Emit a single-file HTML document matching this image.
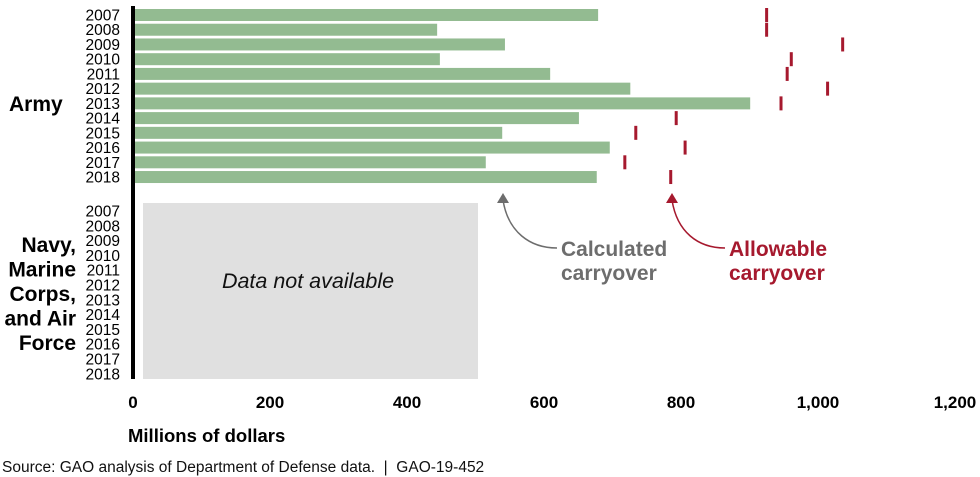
<!DOCTYPE html>
<html><head><meta charset="utf-8"><style>
html,body{margin:0;padding:0;background:#fff;}
svg{display:block;font-family:"Liberation Sans",sans-serif;}
</style></head><body>
<svg width="980" height="477" viewBox="0 0 980 477">
<g id="army-labels"></g>
<g id="bars"></g>
<g id="ticks"></g>
<g id="other-labels"></g>
<g id="xaxis"></g>
<rect x="131" y="6" width="4" height="373" fill="#000"/>
<text x="9" y="111" font-size="21" font-weight="bold">Army</text>
<g font-size="21" font-weight="bold" text-anchor="end">
<text x="76" y="252">Navy,</text><text x="76" y="276.5">Marine</text><text x="76" y="301">Corps,</text><text x="76" y="325.5">and Air</text><text x="76" y="350">Force</text>
</g>
<rect x="143" y="203" width="335" height="176" fill="#e0e0e0"/>
<text x="308" y="288" font-size="21.5" font-style="italic" text-anchor="middle" fill="#111">Data not available</text>
<g>
<path d="M557,248 C530,248 508,232 503,200" fill="none" stroke="#6d6d6d" stroke-width="1.5"/>
<polygon points="503,193 497,203 509,203" fill="#6d6d6d"/>
<text x="561" y="256" font-size="21" font-weight="bold" fill="#6d6d6d">Calculated</text>
<text x="561" y="280" font-size="21" font-weight="bold" fill="#6d6d6d">carryover</text>
</g>
<g>
<path d="M725,248 C698,248 677,232 672,200" fill="none" stroke="#a6192e" stroke-width="1.5"/>
<polygon points="672,193 666,203 678,203" fill="#a6192e"/>
<text x="729" y="256" font-size="21" font-weight="bold" fill="#a6192e">Allowable</text>
<text x="729" y="280" font-size="21" font-weight="bold" fill="#a6192e">carryover</text>
</g>
<text x="128" y="442" font-size="18.5" font-weight="bold">Millions of dollars</text>
<text x="2" y="472" font-size="15.5" fill="#111" xml:space="preserve">Source: GAO analysis of Department of Defense data.  |  GAO-19-452</text>
</svg>
<script>
const years = ["2007","2008","2009","2010","2011","2012","2013","2014","2015","2016","2017","2018"];
const calculated = [679,444,543,448,609,726,901,651,539,696,515,677];
const allowable = [925,925,1036,961,955,1014,946,793,734,806,718,785];
const xTicks = [0,200,400,600,800,1000,1200];
const xTickLabels = ["0","200","400","600","800","1,000","1,200"];

const NS = "http://www.w3.org/2000/svg";
const x0 = 133, pxPer = 0.685;
const xs = v => x0 + v * pxPer;
const rowY = i => 9 + i * 14.73;
const rowY2 = i => 205 + i * 14.8;
function mk(tag, attrs, parent, txt){
  const e = document.createElementNS(NS, tag);
  for (const k in attrs) e.setAttribute(k, attrs[k]);
  if (txt !== undefined) e.textContent = txt;
  parent.appendChild(e); return e;
}
const gb = document.getElementById('bars');
const gt = document.getElementById('ticks');
const gal = document.getElementById('army-labels');
const gol = document.getElementById('other-labels');
const gx = document.getElementById('xaxis');
years.forEach((y, i) => {
  const r = mk('rect', {x: 135, y: rowY(i), width: Math.max(0, xs(calculated[i]) - 135), height: 12, fill: '#93bb91'}, gb);
  
  
  const t = mk('rect', {x: xs(allowable[i]) - 1.5, y: rowY(i) - 1, width: 3, height: 14, fill: '#a6192e'}, gt);
  
  
  const l = mk('text', {x: 120, y: rowY(i) + 11.5, 'font-size': 15.5, 'text-anchor': 'end'}, gal, y);
  
  
  const l2 = mk('text', {x: 120, y: rowY2(i) + 11.5, 'font-size': 15.5, 'text-anchor': 'end'}, gol, y);
  
  
});
xTicks.forEach((v, i) => {
  const t = mk('text', {x: xs(v), y: 408, 'font-size': 17, 'font-weight': 'bold', 'text-anchor': 'middle',
    'font-family': '"Liberation Sans Narrow","Liberation Sans",sans-serif'}, gx, xTickLabels[i]);
  
  
});
</script>
</body></html>
